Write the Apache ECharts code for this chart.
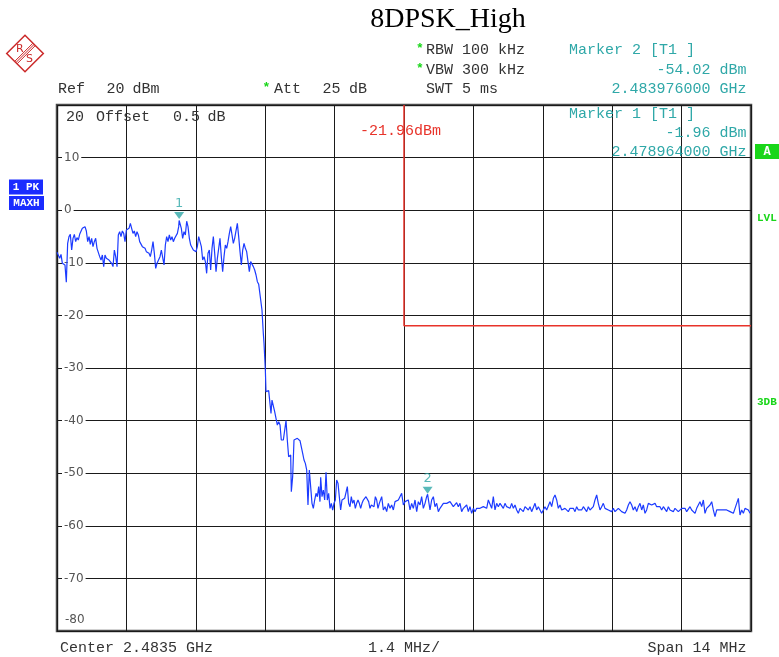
<!DOCTYPE html>
<html><head><meta charset="utf-8">
<script src="https://cdn.jsdelivr.net/npm/echarts/dist/echarts.min.js"></script>
<style>html,body{margin:0;padding:0;background:#fff}#c{width:779px;height:657px}</style>
</head><body><div id="c"></div>
<script>
// ---- settings ----
const titleText = '8DPSK_High';
const centerGHz = 2.4835;
const spanMHz = 14;
const divMHz = 1.4;
const refLevelDbm = 20;
const bottomLevelDbm = -80;
const levelDivDb = 10;
const limitFreqKHz = 0;        // display line starts at center
const limitLevelDbm = -21.96;
const marker1 = { name: '1', freqKHz: -4536, levelDbm: -1.96 };
const marker2 = { name: '2', freqKHz: 476, levelDbm: -54.02 };

// ---- trace (frequency offset from center in kHz, level in dBm) ----
const bandFreqKHz = [-7000,
-6973,-6946,-6919,-6892,-6865,-6839,-6812,-6785,-6758,-6731,
-6704,-6677,-6650,-6623,-6597,-6570,-6543,-6516,-6489,-6462,
-6435,-6408,-6381,-6354,-6328,-6301,-6274,-6247,-6220,-6193,
-6166,-6139,-6112,-6085,-6058,-6032,-6005,-5978,-5951,-5924,
-5897,-5870,-5843,-5816,-5789,-5763,-5736,-5709,-5682,-5655,
-5628,-5601,-5574,-5547,-5520,-5494,-5467,-5440,-5413,-5386,
-5359,-5332,-5305,-5278,-5251,-5224,-5198,-5171,-5144,-5117,
-5090,-5063,-5036,-5009,-4982,-4955,
-4922,-4895,-4868,-4841,-4814,-4788,-4761,-4734,-4707,-4680,
-4653,-4626,-4599,-4572,-4545,-4536,-4492,-4465,-4438,-4411,
-4384,-4357,-4330,-4303,-4276,-4250,-4223,-4196,-4169,-4142,
-4115,-4088,-4061,-4034,-4007,-3981,-3954,-3927,-3900,-3873,
-3846,-3819,-3792,-3765,-3738,-3712,-3685,-3658,-3631,-3604,
-3577,-3550,-3523,-3496,-3469,-3443,-3416,-3389,-3362,-3335,
-3308,-3281,-3254,-3227,-3200,-3174,-3147,-3120,-3093,-3066,
-3039,-3012,-2985,-2958,-2931,-2905];
const bandLevelDbm = [-8.0,
-8.2,-9.15,-8.39,-10.1,-9.78,-10.42,-13.71,-6.3,-5.03,-4.59,
-7.57,-5.35,-4.59,-5.98,-5.22,-5.67,-4.59,-4.71,-3.45,-3.13,
-3.13,-3.95,-5.98,-5.03,-6.49,-5.35,-6.93,-5.98,-5.35,-7.25,
-7.57,-8.83,-9.47,-8.52,-10.73,-8.52,-9.15,-8.83,-9.47,-9.15,
-10.1,-10.73,-7.57,-8.83,-10.73,-4.71,-4.08,-5.03,-3.95,-4.4,
-5.98,-3.76,-4.08,-3.45,-2.5,-3.45,-4.4,-3.95,-5.03,-4.08,
-4.71,-5.98,-6.3,-6.93,-7.25,-7.25,-7.88,-7.57,-8.2,-8.83,
-7.57,-5.98,-8.2,-11.05,-10.1,-10.42,
-8.83,-7.57,-7.25,-10.42,-6.62,-5.03,-5.98,-4.71,-5.67,-5.03,
-5.98,-5.35,-5.35,-4.4,-3.13,-1.96,-3.45,-5.35,-4.08,-4.71,
-2.1,-3.13,-5.35,-6.62,-6.3,-7.57,-7.57,-7.88,-6.93,-5.03,
-5.03,-6.93,-9.47,-8.83,-9.78,-12.0,-8.2,-7.57,-11.37,-7.25,
-5.03,-8.2,-11.69,-9.15,-7.25,-5.35,-8.83,-11.69,-8.83,-6.62,
-7.25,-5.98,-4.4,-3.13,-4.71,-6.3,-5.35,-5.03,-2.5,-5.03,
-7.88,-10.42,-7.57,-6.3,-7.25,-7.88,-9.78,-11.69,-9.78,-9.47,
-10.73,-11.37,-12.32,-13.59,-14.09,-14.09];

const edgeFreqKHz = [
-2865,-2838,-2824,-2797,-2784,-2757,-2730,-2703,-2683,-2663,
-2636,-2609,-2582,-2555,-2528,-2501,-2475,-2434,-2407,-2380,
-2354,-2327,-2300,-2286,-2273,-2246,-2219,-2179,-2152,-2125,
-2098,-2071,-2044,-2017,-1990,-1963,-1937,-1910,-1883,-1856,
-1829,-1802,-1775,-1748,-1721,-1695,-1681,-1654,-1627,-1600,
-1573,-1547,-1520,-1493,-1466,-1439,-1412,-1385,-1358,-1331,
-1305,-1278,-1251,-1224,-1197,-1170,-1143,-1116,-1089,-1063,
-1036,-1009,-982,-955,-928,-901,-874,-847,-820,-793,
-767,-740,-713,-686,-659,-632,-605,-578,-551,-525,-498];
const edgeLevelDbm = [
-18.97,-23.41,-25.31,-30.38,-34.5,-34.31,-34.31,-34.18,-38.62,-36.09,
-36.4,-38.3,-38.62,-40.84,-40.2,-40.84,-43.69,-43.69,-43.37,-40.01,
-43.69,-46.86,-47.17,-46.54,-53.51,-50.66,-43.69,-43.69,-43.37,-43.69,
-43.82,-43.69,-46.22,-47.49,-48.13,-49.39,-56.05,-49.39,-49.27,-55.73,
-56.68,-55.1,-53.83,-54.46,-52.56,-55.41,-50.79,-54.46,-53.2,-55.1,
-49.84,-55.1,-53.83,-56.68,-55.73,-57.0,-55.73,-55.1,-51.29,-51.93,
-54.46,-57.0,-55.1,-55.1,-54.78,-55.1,-52.56,-55.73,-56.36,-54.46,
-55.73,-55.1,-56.68,-55.73,-55.1,-55.73,-56.68,-55.73,-55.1,-54.78,
-54.46,-54.46,-55.41,-56.68,-56.05,-55.73,-56.36,-54.46,-55.1,-56.68,-55.73];

const floorFreqKHz = [
-450,-417,-383,-350,-316,-282,-249,-215,-181,-148,
-114,-81,-47,-13,20,54,87,121,155,188,
222,256,289,323,356,390,424,457,476,525,
558,592,625,659,693,726,760,794,827,861,
894,928,962,995,1029,1062,1096,1130,1163,1197,
1231,1264,1298,1331,1365,1399,1432,1466,1500,1533,
1567,1600,1634,1668,1701,1735,1769,1802,1836,1869,
1903,1937,1970,2004,2037,2071,2105,2138,2172,2206,
2239,2273,2306,2340,2374,2407,2441,2475,2508,2542,
2575,2609,2643,2676,2710,2744,2777,2811,2844,2878,
2912,2945,2979,3013,3046,3080,3113,3147,3181,3214,
3248,3281,3315,3349,3382,3416,3450,3483,3517,3550,
3584,3618,3651,3685,3719,3752,3786,3819,3853,3887,
3920,3954,3988,4021,4055,4088,4122,4156,4189,4223,
4257,4290,4324,4357,4391,4425,4458,4492,4526,4559,
4593,4626,4660,4694,4727,4761,4795,4828,4862,4895,
4929,4963,4996,5030,5064,5097,5131,5164,5198,5232,
5265,5299,5333,5366,5400,5433,5467,5501,5534,5568,
5602,5635,5669,5702,5736,5770,5803,5837,5871,5904,
5938,5971,6005,6039,6072,6106,6140,6173,6207,6240,
6274,6308,6341,6375,6409,6442,6476,6509,6543,6577,
6610,6644,6678,6711,6745,6778,6812,6846,6879,6913,
6947,6980];
const floorLevelDbm = [
-54.46,-56.99,-56.36,-57.31,-55.73,-56.68,-56.04,-56.99,-55.41,-55.73,
-55.09,-54.78,-53.83,-56.04,-55.41,-55.73,-55.09,-56.99,-55.73,-56.68,
-55.09,-57.31,-55.41,-56.04,-54.46,-56.68,-55.73,-54.46,-54.02,-56.99,
-55.09,-54.46,-56.36,-55.73,-57.31,-56.68,-56.99,-55.73,-55.41,-55.73,
-55.73,-55.41,-55.73,-56.36,-56.04,-55.6,-56.36,-55.73,-57.31,-56.68,
-56.36,-56.04,-57.31,-56.36,-57.63,-56.68,-57.31,-56.68,-56.99,-56.68,
-56.99,-56.36,-56.68,-56.68,-55.09,-55.41,-56.68,-54.46,-56.99,-55.73,
-56.36,-55.73,-56.04,-56.68,-55.73,-56.36,-56.04,-56.68,-55.73,-56.68,
-56.04,-56.99,-57.63,-56.68,-56.99,-57.31,-56.36,-56.68,-56.99,-56.36,
-57.31,-56.99,-55.73,-56.99,-56.36,-56.04,-57.63,-57.95,-56.36,-56.99,
-56.68,-55.41,-56.36,-54.78,-54.14,-55.09,-56.68,-56.04,-56.99,-57.31,
-56.68,-56.99,-57.31,-56.68,-56.99,-56.68,-57.31,-56.36,-56.99,-56.68,
-56.99,-56.36,-56.04,-57.31,-56.36,-56.99,-56.68,-56.36,-55.09,-54.14,
-55.73,-56.99,-56.36,-55.73,-56.68,-56.36,-56.99,-56.68,-57.31,-56.68,
-57.31,-56.99,-56.68,-56.99,-57.31,-57.31,-57.63,-56.99,-56.04,-55.41,
-56.04,-56.99,-56.36,-57.31,-56.36,-55.73,-56.99,-56.04,-57.63,-56.99,
-55.73,-55.73,-56.04,-56.04,-55.73,-56.36,-56.68,-56.36,-56.99,-56.36,
-56.68,-57.31,-56.36,-56.99,-56.99,-57.31,-56.68,-56.99,-57.31,-57.63,
-56.68,-56.99,-56.68,-57.31,-56.99,-56.36,-56.99,-56.68,-57.63,-56.68,
-56.36,-55.41,-56.36,-55.09,-57.63,-56.68,-56.99,-56.04,-55.41,-56.99,
-58.26,-56.99,-56.68,-56.99,-56.68,-56.99,-57.31,-56.99,-56.99,-57.31,
-56.99,-57.63,-56.68,-56.36,-54.78,-57.95,-56.99,-57.63,-56.68,-56.99,
-56.99,-57.63];

// ---- build ----
const traceFreq = bandFreqKHz.concat(edgeFreqKHz, floorFreqKHz);
const traceLevel = bandLevelDbm.concat(edgeLevelDbm, floorLevelDbm);
const traceData = traceFreq.map((f, i) => [f, traceLevel[i]]);
const halfSpanKHz = spanMHz * 1000 / 2;
const limitData = [[limitFreqKHz, refLevelDbm], [limitFreqKHz, limitLevelDbm], [halfSpanKHz, limitLevelDbm]];

const TEAL = '#2fa8a8', RED = '#e8332a', GREEN = '#19d619', BLUE = '#1c3bff', BOXBLUE = '#1a2cff';
const MONO = '"Liberation Mono", "DejaVu Sans Mono", monospace';
const SANS = '"DejaVu Sans", sans-serif';

function txt(x, y, s, o) {
  return { type: 'text', x: x, y: y, z: 50,
    style: Object.assign({ text: s, fontSize: 15, fontFamily: MONO, fill: '#333', align: 'left', verticalAlign: 'middle' }, o || {}) };
}
function ghzText(kHz) { return (centerGHz + kHz / 1e6).toFixed(9) + ' GHz'; }

const chart = echarts.init(document.getElementById('c'), null, { renderer: 'canvas' });

const markerSeries = (m, off, lab) => ({
  type: 'scatter', data: [[m.freqKHz, m.levelDbm]], symbol: 'triangle', symbolRotate: 180,
  symbolSize: [10, 7], symbolOffset: [0, off], z: 20,
  itemStyle: { color: TEAL },
  label: { show: true, formatter: m.name, position: 'top', distance: lab, color: TEAL, fontSize: 13, fontFamily: SANS }
});

const s = Math.SQRT1_2;
const logoLines = [-1.7, 0, 1.7].map(d => ({
  type: 'line', shape: { x1: 15.85 + d * s, y1: 62.65 + d * s, x2: 34.15 + d * s, y2: 44.35 + d * s },
  style: { stroke: '#cc2a2a', lineWidth: 1 }
}));

chart.setOption({
  animation: false,
  backgroundColor: '#fff',
  grid: { left: 57, right: 28, top: 105, bottom: 26, containLabel: false, show: true,
    borderColor: '#4a4a4a', borderWidth: 2.5, backgroundColor: '#fff' },
  xAxis: { type: 'value', min: -halfSpanKHz, max: halfSpanKHz, interval: divMHz * 1000,
    axisLine: { show: false }, axisTick: { show: false }, axisLabel: { show: false },
    splitLine: { show: true, lineStyle: { color: '#1a1a1a', width: 1 } } },
  yAxis: { type: 'value', min: bottomLevelDbm, max: refLevelDbm, interval: levelDivDb,
    axisLine: { show: false }, axisTick: { show: false },
    splitLine: { show: true, lineStyle: { color: '#1a1a1a', width: 1 } },
    axisLabel: { inside: true, margin: 5, color: '#555', fontSize: 12, fontFamily: SANS,
      backgroundColor: '#fff', padding: [0, 2, 0, 2],
      formatter: v => (v === refLevelDbm || v === bottomLevelDbm) ? '' : String(v) } },
  series: [
    { type: 'line', data: limitData, showSymbol: false, z: 5, lineStyle: { color: RED, width: 1.5 }, silent: true },
    { type: 'line', data: traceData, showSymbol: false, z: 10,
      lineStyle: { color: BLUE, width: 1.2 }, silent: true },
    markerSeries(marker1, -5, 2),
    markerSeries(marker2, -4, 2)
  ],
  graphic: [
    txt(448, 20, titleText, { fontFamily: '"Liberation Serif", serif', fontSize: 28, fill: '#000', align: 'center' }),
    // logo
    { type: 'polygon', shape: { points: [[6.7, 53.5], [25, 35.2], [43.3, 53.5], [25, 71.8]] },
      style: { fill: '#fff', stroke: '#cc2a2a', lineWidth: 1.5 } },
    ...logoLines,
    txt(19.7, 49, 'R', { fontFamily: SANS, fontSize: 11, fill: '#cc2a2a', align: 'center' }),
    txt(29.5, 59.5, 'S', { fontFamily: SANS, fontSize: 11, fill: '#cc2a2a', align: 'center' }),
    // header
    txt(416, 49, '*', { fill: GREEN, fontWeight: 'bold', fontSize: 13 }),
    txt(426, 50.5, 'RBW 100 kHz'),
    txt(416, 69, '*', { fill: GREEN, fontWeight: 'bold', fontSize: 13 }),
    txt(426, 70.3, 'VBW 300 kHz'),
    txt(426, 89.3, 'SWT 5 ms'),
    txt(58, 89.3, 'Ref'), txt(106.5, 89.3, '20'), txt(132.5, 89.3, 'dBm'),
    txt(262.5, 88, '*', { fill: GREEN, fontWeight: 'bold', fontSize: 13 }),
    txt(274, 89.3, 'Att'), txt(322.5, 89.3, '25'), txt(349, 89.3, 'dB'),
    txt(569, 50.5, 'Marker ' + marker2.name + ' [T1 ]', { fill: TEAL }),
    txt(746.5, 70.3, marker2.levelDbm.toFixed(2) + ' dBm', { fill: TEAL, align: 'right' }),
    txt(746.5, 89.3, ghzText(marker2.freqKHz), { fill: TEAL, align: 'right' }),
    txt(569, 114.3, 'Marker ' + marker1.name + ' [T1 ]', { fill: TEAL }),
    txt(746.5, 133.3, marker1.levelDbm.toFixed(2) + ' dBm', { fill: TEAL, align: 'right' }),
    txt(746.5, 152.3, ghzText(marker1.freqKHz), { fill: TEAL, align: 'right' }),
    txt(66, 116.7, String(refLevelDbm)), txt(96, 116.7, 'Offset'), txt(173, 116.7, '0.5'), txt(207.5, 116.7, 'dB'),
    txt(360, 131.5, limitLevelDbm.toFixed(2) + 'dBm', { fill: RED }),
    txt(65, 620, String(bottomLevelDbm), { fontFamily: SANS, fontSize: 12, fill: '#555' }),
    // side boxes
    { type: 'rect', shape: { x: 9, y: 179.5, width: 34, height: 15 }, style: { fill: BOXBLUE } },
    txt(26, 187, '1 PK', { fill: '#fff', fontWeight: 'bold', fontSize: 11, align: 'center' }),
    { type: 'rect', shape: { x: 9, y: 196, width: 35, height: 14 }, style: { fill: BOXBLUE } },
    txt(26.5, 203, 'MAXH', { fill: '#fff', fontWeight: 'bold', fontSize: 11, align: 'center' }),
    { type: 'rect', shape: { x: 755, y: 144, width: 24, height: 15 }, style: { fill: GREEN } },
    txt(767, 151.5, 'A', { fill: '#fff', fontWeight: 'bold', fontSize: 12, align: 'center' }),
    txt(757, 218.5, 'LVL', { fill: GREEN, fontWeight: 'bold', fontSize: 11 }),
    txt(757, 402.5, '3DB', { fill: GREEN, fontWeight: 'bold', fontSize: 11 }),
    // footer
    txt(60, 648, 'Center ' + centerGHz + ' GHz'),
    txt(368, 648, divMHz + ' MHz/'),
    txt(746.5, 648, 'Span ' + spanMHz + ' MHz', { align: 'right' })
  ]
});
</script>
</body></html>
